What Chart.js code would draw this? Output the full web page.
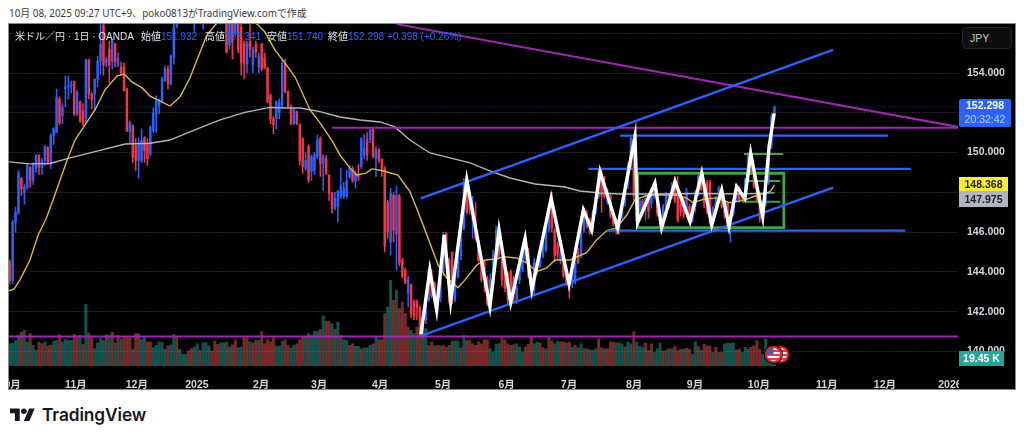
<!DOCTYPE html>
<html lang="ja">
<head>
<meta charset="utf-8">
<title>米ドル／円</title>
<script src="https://cdn.jsdelivr.net/npm/chart.js@4"></script>
<style>
  html, body { margin: 0; padding: 0; background: #fff; }
  body { width: 1024px; height: 441px; position: relative; overflow: hidden; font-family: "Liberation Sans", "Noto Sans CJK JP", sans-serif; }
  .abs { position: absolute; white-space: nowrap; }
  #title { left: 9px; top: 6px; font: 9.9px/14px "Noto Sans", "Noto Sans CJK JP", sans-serif; color: #3a3a3a; }
  #panel { left: 8px; top: 23px; width: 1006px; height: 365px; border: 1px solid #8a8a8a; background: #000; overflow: hidden; }
  #panel canvas { position: absolute; left: -9px; top: -24px; }
  #legend { left: 6px; top: 6px; font-size: 10px; line-height: 14px; color: #e0e3eb; }
  #legend b { font-weight: normal; color: #2962ff; }
  #legend span { position: absolute; top: 0; }
  .tag { font-size: 10.5px; font-weight: bold; text-align: center; }
  #jpy { left: 953px; top: 3px; width: 48px; height: 20px; background: #0e0e0e; border: 1px solid #262626; border-radius: 4px; color: #c8c8c8; font-size: 10.5px; line-height: 20px; text-indent: 7px; }
  #lastTag { left: 950px; top: 75px; width: 52px; height: 28px; background: #2962ff; color: #fff; border-radius: 2px; line-height: 13.5px; }
  #lastTag small { font-size: 10.5px; font-weight: normal; color: #c6d4ff; display: block; }
  #fastTag { left: 950px; top: 153px; width: 49px; height: 14px; background: #ffeb3b; color: #222; line-height: 14px; }
  #slowTag { left: 950px; top: 167px; width: 49px; height: 16px; background: #b2b5be; color: #222; line-height: 16px; }
  #volTag { left: 950px; top: 327px; width: 45px; height: 15px; background: #26a69a; color: #fff; line-height: 15px; }
  #axisMask { left: 950px; top: 343px; width: 56px; height: 22px; background: #000; }
  .flag { width: 13px; height: 13px; border-radius: 50%; border: 2px solid #e5202e; box-shadow: 0 0 0 1px #000;
          background: linear-gradient(#3c5bb5, #3c5bb5) 0 0 / 50% 50% no-repeat, repeating-linear-gradient(#f4f4f4 0 2px, #e5404a 2px 4px); top: 322px; }
  #logo { left: 10px; top: 408px; }
  #brand { left: 42px; top: 403px; font: 600 17.3px/24px Inter, sans-serif; color: #131722; letter-spacing: -0.1px; }
</style>
</head>
<body>
<div class="abs" id="title">10月 08, 2025 09:27 UTC+9、poko0813がTradingView.comで作成</div>
<div class="abs" id="panel">
  <canvas id="chart" width="1024" height="441"></canvas>
  <div class="abs" id="legend">米ドル／円 · 1日 · OANDA
    <span style="left:126px">始値<b>151.932</b></span>
    <span style="left:190px">高値<b>152.341</b></span>
    <span style="left:252px">安値<b>151.740</b></span>
    <span style="left:313px">終値<b>152.298 +0.398 (+0.26%)</b></span>
  </div>
  <div class="abs" id="axisMask"></div>
  <div class="abs" id="jpy">JPY</div>
  <div class="abs tag" id="lastTag">152.298<small>20:32:42</small></div>
  <div class="abs tag" id="fastTag">148.368</div>
  <div class="abs tag" id="slowTag">147.975</div>
  <div class="abs tag" id="volTag">19.45 K</div>
  <div class="abs flag" style="left:763px"></div>
  <div class="abs flag" style="left:756px"></div>
</div>
<svg class="abs" id="logo" width="25" height="14" viewBox="0 4 36 19"><path fill="#131722" d="M14 22H7V11H0V4h14v18zM28 22h-8l7.5-18h8L28 22z"/><circle fill="#131722" cx="20" cy="8" r="4"/></svg>
<div class="abs" id="brand">TradingView</div>

<script>
// Precios diarios (una vela por indice)
const opens = [
  144.5,143.55,146.5,146.95,148.7,148.0,148.25,149.25,148.6,149.2,
  149.85,149.25,149.6,150.25,149.5,150.85,151.0,152.7,151.85,153.2,
  153.3,153.35,153.58,151.95,152.55,152.1,151.7,154.65,152.95,152.95,
  153.7,154.6,156.4,154.5,155.2,154.6,155.45,154.4,154.3,154.3,
  153.2,151.05,151.35,150.35,149.6,149.6,150.75,150.4,149.95,151.1,
  151.95,152.35,152.6,153.6,154.2,153.45,154.8,156.3,157.0,156.7,
  157.1,156.8,157.3,156.6,157.4,157.9,156.9,157.5,157.0,157.9,
  158.3,157.9,158.4,157.5,157.0,155.4,156.6,156.0,156.6,156.3,
  155.5,154.45,155.6,154.4,155.45,154.3,155.45,154.75,154.25,152.9,
  151.7,151.7,152.0,152.4,154.5,153.05,152.3,151.45,152.05,151.4,
  150.7,149.2,150.3,149.05,149.1,149.8,150.7,149.45,149.7,148.85,
  147.95,147.2,147.3,147.8,147.8,147.8,148.8,149.2,148.55,148.9,
  149.3,149.85,150.65,150.65,151.15,149.7,150.15,149.65,149.2,147.5,
  145.5,147.85,145.9,147.8,144.6,144.1,142.95,143.35,142.5,142.5,
  142.2,140.95,141.6,142.6,143.6,143.4,142.1,142.7,144.0,145.9,
  144.6,145.0,142.6,143.8,144.8,146.2,148.5,147.9,146.6,146.6,
  145.45,144.6,144.5,143.7,142.8,143.4,144.8,146.1,144.6,144.6,
  143.9,144.0,143.7,142.6,143.6,144.1,144.7,145.0,143.9,143.1,
  144.5,144.3,144.8,145.1,146.1,147.7,146.1,145.4,144.6,144.6,
  144.1,143.8,143.4,143.6,145.0,144.8,146.1,146.95,146.6,146.1,
  147.0,147.8,149.0,148.45,147.5,147.8,146.95,146.6,146.1,146.8,
  147.4,148.4,149.3,150.7,147.8,147.1,147.55,147.3,147.8,147.45,
  147.8,147.8,146.95,146.3,147.3,147.45,147.85,148.6,148.1,147.8,
  147.6,147.1,147.3,146.6,147.3,147.9,149.0,148.15,148.5,148.5,
  146.4,147.0,147.7,148.2,147.3,147.45,146.3,146.9,147.6,148.2,
  147.9,147.8,148.6,149.9,149.1,148.3,147.8,146.8,147.4,148.5,
  150.35,151.932];
const closes = [
  143.55,146.5,147.0,148.95,148.17,148.25,149.35,148.6,149.4,149.85,
  149.25,149.6,150.3,149.5,150.85,151.2,152.75,151.5,152.3,153.3,
  153.35,153.4,151.95,153.05,151.6,151.5,154.65,152.95,152.65,153.7,
  154.6,155.45,154.4,154.7,154.4,155.7,154.55,154.75,154.0,153.1,
  151.1,151.5,149.75,149.6,150.4,150.6,150.1,149.7,151.25,152.0,
  152.6,152.6,153.7,154.2,153.45,154.85,156.3,156.9,156.7,157.1,
  156.8,157.3,157.6,157.4,157.9,157.2,157.5,157.0,157.9,158.3,
  157.9,158.4,157.5,156.9,155.05,156.6,155.55,156.6,155.15,154.5,
  154.45,155.5,155.2,155.2,155.05,154.85,154.2,154.25,152.55,151.7,
  151.4,152.55,152.55,154.5,153.05,152.3,151.45,152.15,151.45,149.6,
  149.3,149.6,148.6,149.8,149.9,150.65,149.45,149.8,148.95,147.95,
  147.2,147.7,148.05,148.3,148.2,148.6,149.2,148.6,148.95,148.8,
  150.7,150.2,149.9,151.15,149.8,150.15,149.6,149.2,145.3,146.0,
  147.95,146.1,147.85,144.45,143.8,143.45,143.6,141.85,141.75,142.2,
  140.95,141.75,142.6,144.1,142.8,142.6,142.6,144.0,145.8,144.6,
  142.5,142.6,143.9,145.0,146.4,148.5,147.0,147.1,147.2,145.7,
  144.6,143.6,143.7,142.4,143.6,144.9,146.1,144.9,143.6,143.2,
  142.6,142.6,142.9,143.2,144.4,145.1,145.4,143.8,143.2,144.5,
  144.1,144.8,145.45,146.1,147.1,146.2,144.8,144.9,144.9,143.8,
  143.4,143.4,144.0,144.6,144.5,146.1,147.1,146.3,146.0,147.0,
  147.8,149.0,147.8,147.8,148.05,146.8,146.4,146.1,146.8,147.4,
  148.4,149.4,150.7,147.8,146.6,147.6,147.1,147.7,147.05,147.85,
  148.45,146.95,146.3,147.3,147.85,147.85,148.35,147.6,146.6,147.0,
  146.85,148.0,146.6,147.3,147.9,148.8,148.15,147.45,147.0,146.45,
  147.2,147.7,148.2,147.3,146.8,146.3,146.9,147.6,148.3,147.6,
  147.7,148.6,149.9,149.0,148.3,147.6,146.7,147.4,148.5,150.4,
  151.8,152.298];
const highs = [
  144.6,146.6,147.25,149.1,148.75,148.4,149.45,149.3,149.5,149.9,
  149.9,149.7,150.35,150.3,150.95,151.25,153.2,152.8,152.45,153.85,
  153.85,153.6,153.6,153.15,152.6,152.45,154.7,154.7,153.0,153.7,
  154.85,156.6,156.6,154.8,155.6,155.7,155.5,155.0,154.55,154.5,
  153.25,151.6,151.4,150.7,150.75,151.2,150.8,150.7,151.35,152.25,
  152.85,152.7,153.8,154.35,154.35,154.9,156.6,157.0,157.2,157.3,
  157.3,157.5,157.9,157.6,158.1,158.0,157.8,157.9,158.2,158.6,
  158.5,158.8,158.6,157.7,157.2,156.7,156.7,156.7,156.7,156.5,
  155.6,155.6,156.6,155.3,155.6,155.0,155.5,155.0,154.3,152.95,
  151.8,152.6,152.7,154.65,154.7,153.1,152.4,152.2,152.1,151.45,
  150.75,150.0,150.4,149.9,150.0,150.9,150.8,149.9,149.85,148.9,
  148.0,148.0,148.1,149.2,148.5,149.1,149.35,149.3,149.1,149.4,
  150.75,150.9,151.0,151.2,151.2,150.3,150.2,149.7,149.3,147.6,
  148.2,148.0,148.3,147.9,144.7,144.2,143.8,143.4,142.6,142.6,
  142.3,141.9,142.8,144.2,144.1,143.5,143.1,144.1,146.0,146.0,
  144.7,145.0,144.0,145.2,146.9,148.7,148.7,148.0,147.8,147.5,
  145.6,144.8,144.6,143.8,143.9,145.1,146.3,146.2,144.7,144.7,
  144.0,144.1,143.8,143.3,144.6,145.3,145.7,145.2,144.0,144.7,
  144.6,145.0,145.6,146.3,147.2,148.0,146.2,145.5,145.2,144.7,
  144.2,143.9,144.1,144.7,145.2,146.2,147.2,147.1,146.7,147.1,
  148.0,149.2,149.2,148.8,148.2,147.9,147.0,146.7,146.9,147.5,
  148.5,149.5,150.8,150.9,148.0,147.7,147.65,147.8,147.9,148.0,
  148.6,147.9,147.0,147.4,148.0,147.95,148.5,148.8,148.8,147.9,
  147.7,148.2,147.4,147.4,148.1,148.9,149.1,148.2,148.6,148.6,
  147.3,147.8,148.3,148.3,147.4,147.5,147.0,147.7,148.4,148.3,
  148.0,148.7,150.0,150.0,149.2,148.4,147.9,147.5,148.6,150.5,
  151.95,152.341];
const lows = [
  143.4,143.4,145.99,146.9,147.85,147.4,148.15,148.25,148.4,149.0,
  148.9,148.9,149.35,149.4,149.2,150.4,151.0,151.4,151.45,152.3,
  152.7,153.0,151.85,151.85,151.5,151.35,151.45,152.7,152.2,152.1,
  153.3,153.95,153.9,154.3,153.5,154.2,154.3,154.3,153.9,153.1,
  151.05,150.5,149.5,149.1,148.7,149.5,149.5,149.35,149.85,151.0,
  151.0,151.95,152.5,153.6,153.2,153.4,154.45,156.3,156.6,156.6,
  156.6,156.7,157.1,156.1,157.2,157.0,156.2,156.8,156.8,157.6,
  157.7,157.7,157.4,156.7,155.0,155.2,154.7,155.9,155.0,153.9,
  153.7,154.0,154.8,154.0,154.8,154.0,154.1,154.2,152.5,151.45,
  150.95,151.2,151.7,152.3,153.0,152.25,151.4,151.4,151.4,149.4,
  148.95,149.1,148.5,148.6,148.9,149.7,148.8,148.1,148.9,147.6,
  146.95,147.1,146.5,147.7,147.7,147.7,148.7,148.5,148.2,148.6,
  149.2,149.7,149.6,150.5,149.75,148.8,149.5,148.8,145.0,145.7,
  144.85,145.5,144.1,144.3,143.7,143.4,142.25,141.7,141.6,141.6,
  140.8,140.7,141.4,142.5,142.7,142.4,141.9,142.5,143.8,144.3,
  142.4,142.4,142.5,143.7,144.6,146.1,146.9,146.9,145.7,145.6,
  144.5,143.5,143.0,142.3,142.2,143.3,144.7,144.7,143.3,143.0,
  142.4,142.4,142.5,142.4,143.4,144.0,144.5,143.7,143.1,142.9,
  143.9,144.2,144.7,145.0,146.0,146.0,144.5,144.6,144.4,143.7,
  143.3,142.7,143.2,143.4,144.4,144.7,146.0,146.2,145.9,146.0,
  146.9,147.7,147.0,147.7,147.4,146.7,146.3,145.9,145.9,146.7,
  147.3,148.2,149.2,147.6,146.5,146.9,146.8,146.6,146.7,147.2,
  147.7,146.8,146.2,146.2,147.2,147.2,147.7,147.5,146.5,146.8,
  146.7,146.9,146.5,146.5,147.0,147.8,148.1,147.2,146.9,146.4,
  146.3,146.9,147.6,147.2,146.7,146.2,145.5,146.8,147.5,147.5,
  147.6,147.7,148.5,148.9,148.2,147.5,146.5,146.7,147.3,148.4,
  150.2,151.74];

// Volumen en miles, y direccion de cada barra (G = verde, R = rojo)
const volumes = [
  15.5,16,17.8,21.3,23.6,24.8,16.7,22.5,14.4,10.9,
  16.7,15.5,16.7,13.9,14.4,17.4,17.8,21.8,16.7,18.5,
  17.8,17.8,22,19.7,21.3,15,42.9,22.9,19.7,12,
  16,19,17.8,21.8,21.3,23.6,16,21.3,19,19.7,
  19.7,19.7,11.6,22.5,22.5,18.5,19.7,16.7,16.7,12.7,
  14.4,16.7,16.7,11.6,13.9,14.8,22,20.2,11.6,8.1,
  8.1,10.4,12,13.2,15.5,10.9,16.2,16.2,13.9,10.4,
  17.4,15,16,16,16.7,13.2,14.8,17.8,12.7,13.2,
  19.7,19.7,16.7,16,17.8,17.8,24.1,15.5,18.3,16.7,
  19.7,13.9,13.9,17.1,18.3,14.4,12.7,14.4,15.5,18.3,
  20.2,20.2,22.5,21.3,24.1,24.1,25.5,34.8,31,31,
  29.4,25.5,30.6,21.3,18.3,17.8,14.4,15.5,13.7,13.7,
  12,12.7,12.7,14.4,15.5,19.7,18.3,18.3,36.4,41,
  59.5,45.6,52.6,39.9,44.5,36.4,27,24.8,22.5,27,
  22.5,24.8,26,14.4,16.7,13.9,14.4,13.7,14.4,13.2,
  14.4,17.4,17.4,17.4,12.7,21.3,17.8,17.8,15.5,14.4,
  16.7,15.5,18.3,18.3,12,9.7,15,15.5,19.7,17.8,
  15.5,14.4,14.8,15.5,13.2,9.7,13.2,15,20.6,15.5,
  16.7,16,12.7,12,19.7,17.4,15.5,17.4,16.7,16.7,
  16,16.7,13.2,14.4,12.7,15.5,12,12,11.4,10.9,
  12,19,12.7,12,12,16.7,16.7,16,16,15.5,
  13.2,16.7,15.5,24.1,16.7,13.7,13.2,16,10.9,15.5,
  9.7,12,16,10.4,10.9,12,12,13.7,10.7,11.8,
  11.8,12.3,11.8,8.3,16.9,13.7,11.1,15.3,14.1,13.7,
  9.5,13,9.5,9.5,15.3,15.8,15.8,16,11.1,11.8,
  9.5,13,11.8,13,14.1,17.6,11.8,8.3,18.8,13,
  13,13.5];
const volumeDirs =
  "GGGGRGGRGG" + "RRGRRGGRGG" + "GGRRGRGRRG" + "GGGRGRGRGR" + "RRGRRGGRRG" +
  "GGGGRGGRGG" + "GRRGGRGGGR" + "RRGGRGRRGG" + "RRGRRGRRRR" + "RGGGRRGGRR" +
  "RGRGGGRGRR" + "GRGRGGRRGG" + "RGGGRGRRRG" + "GRGRRRRGGR" + "RGGRRGRGRR" +
  "GRGGRGRRRR" + "RRRRGGGGRR" + "RGRGGGRRRG" + "GRRGRRGGRR" + "GRGRGGRGRG" +
  "GRRGRRRGGG" + "RGGRGGGRGR" + "GGGRGRGRRR" + "GRRGGRGRRR" + "GRGRGGGGRR" +
  "GGGRRRRGGG" + "GG";

// Medias moviles: indice de vela y precio
const fastMaX = [-0.2,1.5,3.5,6.9,9.7,12.4,14.8,17.2,19.6,22.3,25.7,29.1,32.5,36.6,39,41.7,45.2,47.9,51.3,54.7,58.1,61.5,63.9,67.3,70.4,77.3,84.4,87.1,90.5,94,97.4,102.5,105.9,109.9,112.7,116.1,118.4,121.6,123.6,127,132.5,136.6,140,143.4,146.2,149.1,153,155.4,159.4,162.2,166.2,168.4,173,176.4,179.9,183.3,186.1,191.2,196.9,200.3,203.8,207.1,210.6,213.4,217.4,222,227.1,231,233.2,237.3,241.3,245.8,251,253.7,257.1,259.5,261];
const fastMaY = [143.05,143.15,143.6,144.6,145.86,146.66,147.62,148.62,149.63,150.63,151.39,152.14,153.15,153.85,153.95,153.55,153.25,152.84,152.59,152.34,152.79,153.75,154.65,155.91,156.46,157,156.46,156.06,155.16,154.5,153.8,152.14,151.49,150.63,149.88,149.23,148.87,148.97,149.18,149.1,148.87,148.04,146.78,145.46,144.35,143.7,143.2,143.6,144.35,144.6,144.65,144.77,144.7,144.45,144.02,144.2,144.6,144.6,144.97,145.61,146.08,146.21,146.86,147.62,147.84,147.87,147.87,147.72,147.48,147.67,147.72,147.48,147.62,147.78,147.92,148.04,148.368];
const slowMaX = [-0.2,6.9,13.8,20.6,29.1,39.4,47.9,54.7,63.2,71.8,80.3,88.8,94,99.1,105.9,112.7,119.6,126.4,131.5,136.6,143.4,150.3,157.1,163.9,170.7,179.3,189.5,194.6,201.5,208.3,222,235.6,249.3,261];
const slowMaY = [149.53,149.43,149.45,149.73,150.05,150.43,150.47,150.63,151.14,151.64,152.02,152.27,152.24,152.24,152.06,151.79,151.64,151.54,151.29,150.63,149.98,149.73,149.48,149.08,148.72,148.42,148.27,148.07,147.97,147.92,147.92,147.94,147.92,147.975];

// Linea blanca en zigzag
const zigzagX = [140.35,143.4,145.7,148.3,150.5,156,163.9,167,171,175.9,178.2,184.8,190.9,195.8,198.6,201.5,207.5,213.4,214.3,220.2,222.5,227.1,232.2,236.2,239.6,243,245.5,248.1,250.9,252.9,257,259.2,260.9];
const zigzagY = [140.87,144.1,142.09,145.86,142.51,148.62,142.26,146.11,142.46,145.69,143.1,147.7,143.4,147.12,146.11,149.04,146.2,150.8,146.47,148.47,146.23,148.54,146.53,148.97,146.36,148.12,146.28,148.29,147.7,149.96,146.78,150.3,151.97];

// Lineas dibujadas: [x inicio, x fin] y [precio inicio, precio fin]
const upperChannelX = [140.3, 281],   upperChannelY = [147.7, 155.16];
const lowerChannelX = [140.4, 281],   lowerChannelY = [140.78, 148.24];
const levelHighX = [208.3, 299.7],    levelHighY = [150.85, 150.85];
const levelMidX = [197.5, 307.5],     levelMidY = [149.18, 149.18];
const levelLowX = [203.8, 305.6],     levelLowY = [146.08, 146.08];
const purpleTrendX = [132, 323.7],    purpleTrendY = [156.46, 151.29];
const purpleTopX = [110, 324],        purpleTopY = [151.25, 151.25];
const purpleBottomX = [-0.3, 324],    purpleBottomY = [140.75, 140.75];
const priceLineX = [-0.3, 324],       priceLineY = [152.298, 152.298];
const boxX = [214.3, 264.2, 264.2, 214.3, 214.3];
const boxY = [148.96, 148.96, 146.23, 146.23, 148.96];
const greenTopX = [250.6, 264],       greenTopY = [149.93, 149.93];
const greenMidX = [251, 263],         greenMidY = [148.57, 148.57];
const greenLowX = [250, 263],         greenLowY = [147.53, 147.53];

// Ejes
const priceTicks = [140, 142, 144, 146, 148, 150, 152, 154, 156];
const hiddenPriceTicks = [148, 152, 156]; // tapados por etiquetas
const monthTicks = [0, 22.6, 43.4, 63.9, 85.8, 105.6, 126.4, 147.9, 169.6, 190.9, 213.1, 233.9, 255.7, 278.9, 298.7, 320.9];
const monthLabels = ["10月", "11月", "12月", "2025", "2月", "3月", "4月", "5月", "6月", "7月", "8月", "9月", "10月", "11月", "12月", "2026"];

const BLUE = "#2962ff";
const RED = "#f23645";
const GREEN = "#43a047";

function puntos(xs, ys) {
    return xs.map((x, i) => ({ x: x, y: ys[i] }));
}

function linea(xs, ys, color, ancho, orden, dash) {
    return {
        type: "line",
        data: puntos(xs, ys),
        borderColor: color,
        borderWidth: ancho,
        borderDash: dash || [],
        pointRadius: 0,
        tension: 0,
        order: orden,
        xAxisID: "x",
        yAxisID: "y"
    };
}

const colorVela = opens.map((o, i) => closes[i] >= o ? BLUE : RED);

const datasets = [
    {
        label: "volumen",
        data: volumes.map((v, i) => ({ x: i, y: v })),
        backgroundColor: volumes.map((v, i) => volumeDirs[i] === "G" ? "rgba(38,166,154,0.5)" : "rgba(239,83,80,0.5)"),
        barThickness: 2.3,
        grouped: false,
        order: 9,
        xAxisID: "x",
        yAxisID: "yVol"
    },
    {
        label: "mechas",
        data: highs.map((h, i) => ({ x: i, y: [lows[i], h] })),
        backgroundColor: colorVela,
        barThickness: 0.9,
        grouped: false,
        order: 8,
        xAxisID: "x",
        yAxisID: "y"
    },
    {
        label: "cuerpos",
        data: opens.map((o, i) => ({ x: i, y: [o, closes[i]] })),
        backgroundColor: colorVela,
        barThickness: 1.8,
        minBarLength: 1,
        grouped: false,
        order: 7,
        xAxisID: "x",
        yAxisID: "y"
    },
    linea(priceLineX, priceLineY, "rgba(41,98,255,0.55)", 1, 6, [1, 2]),
    linea(slowMaX, slowMaY, "#b2b5be", 1.4, 5),
    linea(fastMaX, fastMaY, "#d8bd2a", 1.4, 5),
    linea(purpleTrendX, purpleTrendY, "#9c27b0", 2, 4),
    linea(purpleTopX, purpleTopY, "#9c27b0", 2, 4),
    linea(purpleBottomX, purpleBottomY, "#9c27b0", 2, 4),
    linea(boxX, boxY, GREEN, 2.8, 3),
    linea(greenTopX, greenTopY, GREEN, 2, 3),
    linea(greenMidX, greenMidY, GREEN, 2, 3),
    linea(greenLowX, greenLowY, GREEN, 2, 3),
    linea(upperChannelX, upperChannelY, BLUE, 2.4, 2),
    linea(lowerChannelX, lowerChannelY, BLUE, 2.4, 2),
    linea(levelHighX, levelHighY, BLUE, 2.2, 2),
    linea(levelMidX, levelMidY, BLUE, 2.2, 2),
    linea(levelLowX, levelLowY, BLUE, 2.2, 2),
    linea(zigzagX, zigzagY, "#ffffff", 3.4, 1)
];

new Chart(document.getElementById("chart").getContext("2d"), {
    type: "bar",
    data: { datasets: datasets },
    options: {
        responsive: false,
        animation: false,
        devicePixelRatio: 1,
        layout: { padding: { left: 9, top: 24, right: 0, bottom: 52 } },
        plugins: { legend: { display: false }, tooltip: { enabled: false } },
        scales: {
            x: {
                type: "linear",
                offset: false,
                min: -0.24,
                max: 323.65,
                grid: { display: false, offset: false },
                border: { display: false },
                afterBuildTicks: scale => {
                    scale.ticks = monthTicks.map(v => ({ value: v }));
                },
                afterFit: scale => {
                    scale.height = 23;
                    scale.paddingLeft = 0;
                    scale.paddingRight = 0;
                },
                ticks: {
                    autoSkip: false,
                    maxRotation: 0,
                    color: "#d1d4dc",
                    padding: 5,
                    font: { family: "'Liberation Sans','Noto Sans CJK JP'", size: 10.5, weight: "bold" },
                    callback: (value, index) => monthLabels[index]
                }
            },
            y: {
                type: "linear",
                position: "right",
                min: 139.27,
                max: 156.464,
                grid: { color: "rgba(255,255,255,0.15)", drawTicks: false, lineWidth: 1 },
                border: { display: false, dash: [2, 1] },
                afterBuildTicks: scale => {
                    scale.ticks = priceTicks.map(v => ({ value: v }));
                },
                afterFit: scale => {
                    scale.width = 66;
                },
                ticks: {
                    color: "#d1d4dc",
                    padding: 9,
                    font: { family: "'Liberation Sans'", size: 10.5, weight: "bold" },
                    callback: value => hiddenPriceTicks.includes(value) ? "" : value.toFixed(3)
                }
            },
            yVol: {
                type: "linear",
                display: false,
                min: 0,
                max: 237.7
            }
        }
    }
});
</script>
</body>
</html>
